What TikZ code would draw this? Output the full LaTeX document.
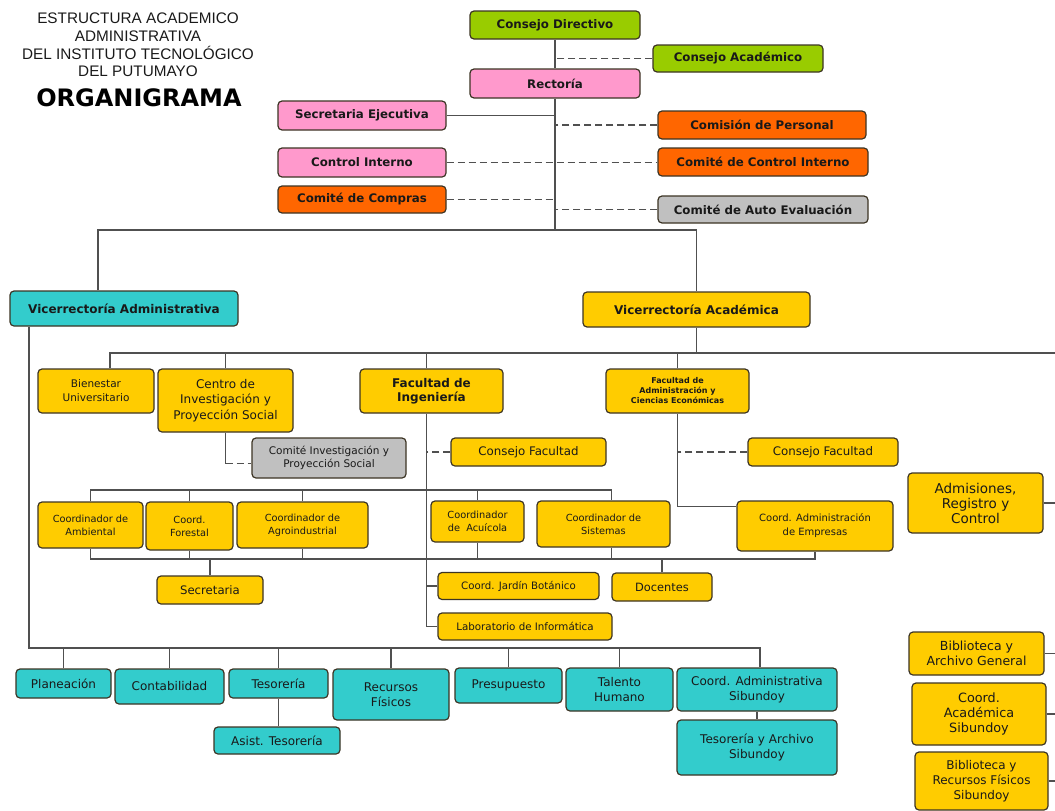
\documentclass[tikz,border=0pt]{standalone}
\usepackage{fontspec}
\setmainfont{DejaVu Sans}
\newfontfamily\titlefont{Liberation Sans}
\usetikzlibrary{calc}
\definecolor{verde}{RGB}{153,204,0}
\definecolor{rosa}{RGB}{255,153,204}
\definecolor{naranja}{RGB}{255,102,0}
\definecolor{gris}{RGB}{192,192,192}
\definecolor{turquesa}{RGB}{51,204,204}
\definecolor{oro}{RGB}{255,204,0}
\definecolor{borde}{RGB}{60,52,36}
\definecolor{gristrazo}{RGB}{80,80,80}
\definecolor{texto}{RGB}{25,25,25}
\newcommand{\fb}{\fontsize{11.8}{14}\selectfont\bfseries}
\newcommand{\fs}[2]{\fontsize{#1}{#2}\selectfont}
\tikzset{
  caja/.style={draw=borde, line width=1.2pt, rounded corners=4pt, align=center, inner sep=1pt, text=texto},
  tam/.style 2 args={minimum width=#1pt, minimum height=#2pt},
  conector/.style={draw=gristrazo, line width=1.3pt},
  punteado/.style={draw=gristrazo, line width=1.3pt, dash pattern=on 7pt off 4pt},
}

\begin{document}
\begin{tikzpicture}[x=1pt,y=-1pt]
\useasboundingbox (0,0) rectangle (1055,811);

%%%%% TITULO %%%%%
\node[font=\titlefont\fs{15.3}{17.8}, align=center, text=texto] (tit) at (138,45) {ESTRUCTURA ACADEMICO\\ADMINISTRATIVA\\DEL INSTITUTO TECNOLÓGICO\\DEL PUTUMAYO};
\node[font=\fs{24}{28}\bfseries, text=black] (org) at (139,98) {ORGANIGRAMA};

%%%%% DIRECCION %%%%%
\node[caja, tam={170}{28}, fill=verde, font=\fb] (cdir) at (555,25) {Consejo Directivo};
\node[caja, tam={170}{27}, fill=verde, font=\fb] (cacad) at (738,58.5) {Consejo Académico};
\node[caja, tam={170}{29}, fill=rosa, font=\fb] (rect) at (555,83.5) {Rectoría};
\node[caja, tam={168}{29}, fill=rosa, font=\fb] (sece) at (362,115.5) {Secretaria Ejecutiva};
\node[caja, tam={168}{29}, fill=rosa, font=\fb] (cint) at (362,162.5) {Control Interno};
\node[caja, tam={168}{27}, fill=naranja, font=\fb] (ccom) at (362,199.5) {Comité de Compras};
\node[caja, tam={208}{28}, fill=naranja, font=\fb] (cper) at (762,125) {Comisión de Personal};
\node[caja, tam={210}{28}, fill=naranja, font=\fb] (ccint) at (763,162) {Comité de Control Interno};
\node[caja, tam={210}{27}, fill=gris, font=\fb] (cauto) at (763,209.5) {Comité de Auto Evaluación};

%%%%% VICERRECTORIAS %%%%%
\node[caja, tam={228}{35}, fill=turquesa, font=\fs{12}{14}\bfseries] (vadm) at (124,308.5) {Vicerrectoría Administrativa};
\node[caja, tam={227}{35}, fill=oro, font=\fs{12}{14}\bfseries] (vaca) at (696.5,309.5) {Vicerrectoría Académica};

%%%%% ACADEMICA %%%%%
\node[caja, tam={116}{44}, fill=oro, font=\fs{10.5}{14}] (bien) at (96,391) {Bienestar\\Universitario};
\node[caja, tam={135}{63}, fill=oro, font=\fs{12}{15.2}] (cen) at (225.5,400.5) {Centro de\\Investigación y\\Proyección Social};
\node[caja, tam={143}{44}, fill=oro, font=\fs{12}{14.5}\bfseries] (fing) at (431.5,391) {Facultad de\\Ingeniería};
\node[caja, tam={143}{44}, fill=oro, font=\fs{8}{10}\bfseries] (fadm) at (677.5,391) {Facultad de\\Administración y\\Ciencias Económicas};
\node[caja, tam={154}{40}, fill=gris, font=\fs{10.5}{13.5}] (cinv) at (329,458) {Comité Investigación y\\Proyección Social};
\node[caja, tam={155}{28}, fill=oro, font=\fs{11.8}{14}] (cfi) at (528.5,452) {Consejo Facultad};
\node[caja, tam={150}{28}, fill=oro, font=\fs{11.8}{14}] (cfa) at (823,452) {Consejo Facultad};

\node[caja, tam={105}{46}, fill=oro, font=\fs{9.8}{13}] (camb) at (90.5,525) {Coordinador de\\Ambiental};
\node[caja, tam={87}{48}, fill=oro, font=\fs{9.8}{13}] (cfor) at (189.5,526) {Coord.\\Forestal};
\node[caja, tam={131}{46}, fill=oro, font=\fs{9.8}{13}] (cagro) at (302.5,525) {Coordinador de\\Agroindustrial};
\node[caja, tam={93}{41}, fill=oro, font=\fs{9.8}{13}] (cacu) at (477.5,521.5) {Coordinador\\de~~Acuícola};
\node[caja, tam={133}{46}, fill=oro, font=\fs{9.8}{13}] (csis) at (603.5,524) {Coordinador de\\Sistemas};
\node[caja, tam={156}{50}, fill=oro, font=\fs{10}{14}] (cae) at (815,526) {Coord. Administración\\de Empresas};
\node[caja, tam={135}{60}, fill=oro, font=\fs{13.5}{15}] (adm) at (975.5,503) {Admisiones,\\Registro y\\Control};

\node[caja, tam={106}{28}, fill=oro, font=\fs{11.7}{14}] (secr) at (210,590) {Secretaria};
\node[caja, tam={161}{27}, fill=oro, font=\fs{10.2}{13}] (jard) at (518.5,586) {Coord. Jardín Botánico};
\node[caja, tam={100}{28}, fill=oro, font=\fs{11.4}{14}] (doc) at (662,587) {Docentes};
\node[caja, tam={174}{27}, fill=oro, font=\fs{10.3}{13}] (lab) at (525,626.5) {Laboratorio de Informática};

\node[caja, tam={135}{43}, fill=oro, font=\fs{12.5}{15}] (bag) at (976.5,653.5) {Biblioteca y\\Archivo General};
\node[caja, tam={134}{62}, fill=oro, font=\fs{12.8}{15}] (cacs) at (979,714) {Coord.\\Académica\\Sibundoy};
\node[caja, tam={133}{58}, fill=oro, font=\fs{12}{15}] (brf) at (981.5,781) {Biblioteca y\\Recursos Físicos\\Sibundoy};

%%%%% ADMINISTRATIVA %%%%%
\node[caja, tam={95}{29}, fill=turquesa, font=\fs{12}{15}] (plan) at (63.5,683.5) {Planeación};
\node[caja, tam={109}{35}, fill=turquesa, font=\fs{12}{15}] (cont) at (169.5,686.5) {Contabilidad};
\node[caja, tam={99}{29}, fill=turquesa, font=\fs{12}{15}] (teso) at (278.5,683.5) {Tesorería};
\node[caja, tam={126}{27}, fill=turquesa, font=\fs{12}{15}] (ates) at (277,740.5) {Asist. Tesorería};
\node[caja, tam={116}{51}, fill=turquesa, font=\fs{12}{15}] (recf) at (391,694.5) {Recursos\\Físicos};
\node[caja, tam={107}{35}, fill=turquesa, font=\fs{12}{15}] (pres) at (508.5,685.5) {Presupuesto};
\node[caja, tam={107}{43}, fill=turquesa, font=\fs{12}{15}] (tal) at (619.5,689.5) {Talento\\Humano};
\node[caja, tam={160}{43}, fill=turquesa, font=\fs{12}{15}] (cas) at (757,689.5) {Coord. Administrativa\\Sibundoy};
\node[caja, tam={160}{55}, fill=turquesa, font=\fs{12}{15}] (tas) at (757,747.5) {Tesorería y Archivo\\Sibundoy};

%%%%% CONECTORES %%%%%
\coordinate (bus1) at (555,230);
\coordinate (bus2) at (0,353);
\coordinate (bus3) at (0,490);
\coordinate (bus4) at (0,559);
\coordinate (bus5) at (0,648);
\coordinate (lim) at (1055,0);

\draw[conector] (cdir) -- (rect);
\draw[conector] (rect.south) -- (bus1);
\draw[punteado] (cacad.west) -- (cacad.west -| rect.south);
\draw[conector] (sece.east) -- (sece.east -| rect.south);
\draw[punteado] (cper.west) -- (cper.west -| rect.south);
\draw[punteado] (cint.east) -- (cint.east -| ccint.west);
\draw[punteado] (ccom.east) -- (ccom.east -| rect.south);
\draw[punteado] (cauto.west) -- (cauto.west -| rect.south);
\draw[conector] ($(vadm.north)+(-26,0)$) |- (bus1) -| (vaca.north);

% vicerrectoria academica
\coordinate (ingx) at ($(fing.south)+(-5,0)$);
\draw[conector] (vaca.south) -- (vaca.south |- bus2);
\draw[conector] ($(bien.north)+(14,0)$) |- (lim |- bus2);
\draw[conector] (cen.north) -- (cen.north |- bus2);
\draw[conector] (ingx |- fing.north) -- (ingx |- bus2);
\draw[conector] (fadm.north) -- (fadm.north |- bus2);

\draw[conector] (cen.south) -- ++(0,31) coordinate (cq);
\draw[punteado] (cq) -- (cq -| cinv.west);

\draw[conector] (ingx) |- (lab.west);
\draw[conector] (jard.west) -- (jard.west -| ingx);
\draw[punteado] (cfi.west) -- (cfi.west -| ingx);

\coordinate (sisx) at ($(csis.north)+(8,0)$);
\draw[conector] (camb.north) |- (sisx |- bus3) -- (sisx);
\foreach \n in {cfor,cagro,cacu} \draw[conector] (\n.north) -- (\n.north |- bus3);
\draw[conector] (camb.south) |- (cae.south |- bus4) -- (cae.south);
\foreach \n in {cfor,cagro,cacu} \draw[conector] (\n.south) -- (\n.south |- bus4);
\draw[conector] (sisx |- csis.south) -- (sisx |- bus4);
\draw[conector] (secr.north) -- (secr.north |- bus4);
\draw[conector] (doc.north) -- (doc.north |- bus4);

\draw[conector] (fadm.south) |- ($(cae.north west)+(0,6)$);
\draw[punteado] (cfa.west) -- (cfa.west -| fadm.south);

\foreach \n in {adm,bag,cacs,brf} \draw[conector] (\n.east) -- (\n.east -| lim);

% vicerrectoria administrativa
\coordinate (admx) at ($(vadm.south)+(-95,0)$);
\coordinate (casx) at ($(cas.north)+(3,0)$);
\draw[conector] (admx) |- (casx |- bus5) -- (casx);
\foreach \n in {plan,cont,teso,recf,pres,tal} \draw[conector] (\n.north) -- (\n.north |- bus5);
\draw[conector] (teso.south) -- (teso.south |- ates.north);
\draw[conector] (cas) -- (tas);

\end{tikzpicture}
\end{document}
